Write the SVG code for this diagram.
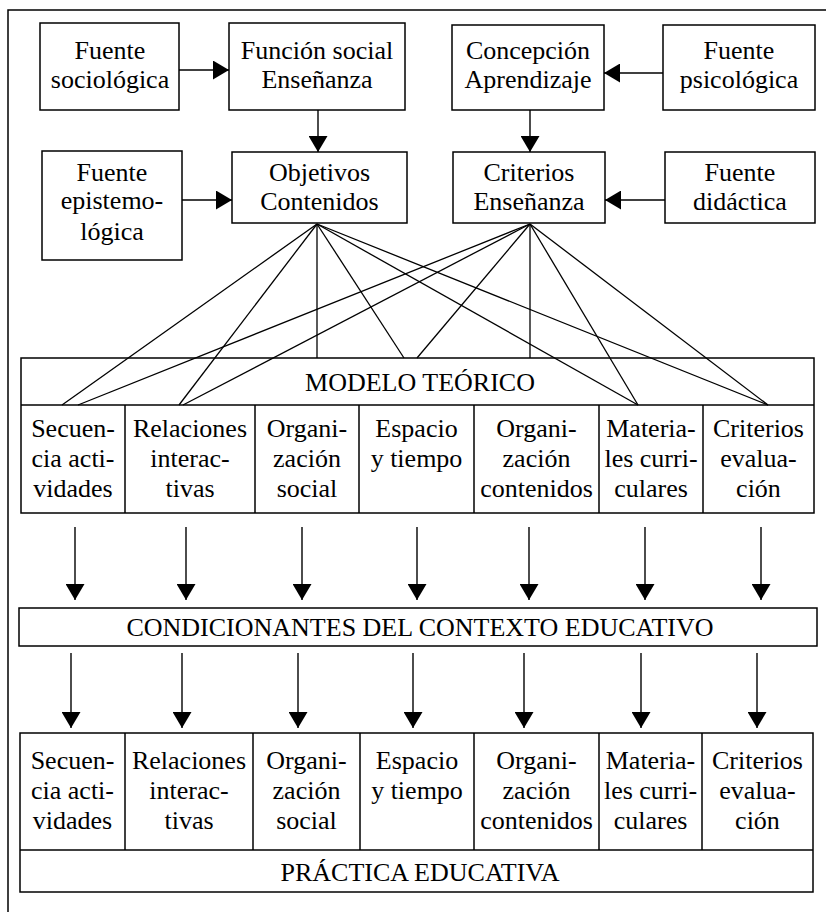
<svg xmlns="http://www.w3.org/2000/svg" width="826" height="912" viewBox="0 0 826 912">
<style>
.bg{fill:#ffffff}
.box{fill:none;stroke:#000;stroke-width:1.5}
.ln{fill:none;stroke:#000;stroke-width:1.3}
.ar{fill:none;stroke:#000;stroke-width:1.4;marker-end:url(#ah)}
.t{font-size:26px;fill:#000;text-anchor:middle}
</style>
<defs>
<marker id="ah" viewBox="0 0 16 19" refX="16" refY="9.5" markerWidth="16" markerHeight="19" markerUnits="userSpaceOnUse" orient="auto">
<path d="M0,0 L16,9.5 L0,19 z" fill="#000"/>
</marker>
</defs>
<rect class="bg" x="0" y="0" width="826" height="912"/>
<path id="frame" class="box" d="M8,912 V10 H826"/>
<g class="t" font-family="'Liberation Serif', 'Times New Roman', serif">
<g id="fuente-sociologica">
<rect class="box" x="40" y="23" width="139" height="87"/>
<text x="110" y="59">Fuente</text>
<text x="110" y="88">sociológica</text>
</g>
<g id="funcion-social">
<rect class="box" x="229" y="23" width="176" height="87"/>
<text x="317" y="59">Función social</text>
<text x="317" y="88">Enseñanza</text>
</g>
<g id="concepcion">
<rect class="box" x="452" y="25" width="152" height="85"/>
<text x="528" y="59">Concepción</text>
<text x="528" y="88">Aprendizaje</text>
</g>
<g id="fuente-psicologica">
<rect class="box" x="663" y="25" width="152" height="85"/>
<text x="739" y="59">Fuente</text>
<text x="739" y="88">psicológica</text>
</g>
<g id="fuente-epistemologica">
<rect class="box" x="42" y="151" width="140" height="109"/>
<text x="112" y="181">Fuente</text>
<text x="112" y="209">epistemo-</text>
<text x="112" y="240">lógica</text>
</g>
<g id="objetivos">
<rect class="box" x="232" y="152" width="175" height="71"/>
<text x="319.5" y="181">Objetivos</text>
<text x="319.5" y="210">Contenidos</text>
</g>
<g id="criterios-ensenanza">
<rect class="box" x="453" y="152" width="152" height="71"/>
<text x="529" y="181">Criterios</text>
<text x="529" y="210">Enseñanza</text>
</g>
<g id="fuente-didactica">
<rect class="box" x="665" y="152" width="150" height="71"/>
<text x="740" y="181">Fuente</text>
<text x="740" y="210">didáctica</text>
</g>

<g id="modelo-teorico">
<rect class="box" x="21" y="358" width="793" height="155"/>
<line class="box" x1="21" y1="405" x2="814" y2="405"/>
<line class="box" x1="125" y1="405" x2="125" y2="513"/>
<line class="box" x1="255" y1="405" x2="255" y2="513"/>
<line class="box" x1="359" y1="405" x2="359" y2="513"/>
<line class="box" x1="474" y1="405" x2="474" y2="513"/>
<line class="box" x1="599" y1="405" x2="599" y2="513"/>
<line class="box" x1="703" y1="405" x2="703" y2="513"/>
<text x="420" y="391">MODELO TEÓRICO</text>
<text x="73" y="437">Secuen-</text><text x="73" y="467">cia acti-</text><text x="73" y="497">vidades</text>
<text x="190" y="437">Relaciones</text><text x="190" y="467">interac-</text><text x="190" y="497">tivas</text>
<text x="307" y="437">Organi-</text><text x="307" y="467">zación</text><text x="307" y="497">social</text>
<text x="416.5" y="437">Espacio</text><text x="416.5" y="467">y tiempo</text>
<text x="536.5" y="437">Organi-</text><text x="536.5" y="467">zación</text><text x="536.5" y="497">contenidos</text>
<text x="651" y="437">Materia-</text><text x="651" y="467">les curri-</text><text x="651" y="497">culares</text>
<text x="758.5" y="437">Criterios</text><text x="758.5" y="467">evalua-</text><text x="758.5" y="497">ción</text>
</g>

<g id="condicionantes">
<rect class="box" x="19" y="608" width="798" height="38"/>
<text x="420" y="636">CONDICIONANTES DEL CONTEXTO EDUCATIVO</text>
</g>

<g id="practica-educativa">
<rect class="box" x="20" y="733" width="793" height="159"/>
<line class="box" x1="20" y1="850" x2="813" y2="850"/>
<line class="box" x1="125" y1="733" x2="125" y2="850"/>
<line class="box" x1="253" y1="733" x2="253" y2="850"/>
<line class="box" x1="360" y1="733" x2="360" y2="850"/>
<line class="box" x1="474" y1="733" x2="474" y2="850"/>
<line class="box" x1="599" y1="733" x2="599" y2="850"/>
<line class="box" x1="702" y1="733" x2="702" y2="850"/>
<text x="72.5" y="769">Secuen-</text><text x="72.5" y="799">cia acti-</text><text x="72.5" y="829">vidades</text>
<text x="189" y="769">Relaciones</text><text x="189" y="799">interac-</text><text x="189" y="829">tivas</text>
<text x="306.5" y="769">Organi-</text><text x="306.5" y="799">zación</text><text x="306.5" y="829">social</text>
<text x="417" y="769">Espacio</text><text x="417" y="799">y tiempo</text>
<text x="536.5" y="769">Organi-</text><text x="536.5" y="799">zación</text><text x="536.5" y="829">contenidos</text>
<text x="650.5" y="769">Materia-</text><text x="650.5" y="799">les curri-</text><text x="650.5" y="829">culares</text>
<text x="757.5" y="769">Criterios</text><text x="757.5" y="799">evalua-</text><text x="757.5" y="829">ción</text>
<text x="420" y="881">PRÁCTICA EDUCATIVA</text>
</g>
</g>

<g id="connectors">
<line class="ar" x1="179" y1="70" x2="229" y2="70"/>
<line class="ar" x1="318" y1="110" x2="318" y2="152"/>
<line class="ar" x1="663" y1="73" x2="604" y2="73"/>
<line class="ar" x1="530" y1="110" x2="530" y2="152"/>
<line class="ar" x1="182" y1="200" x2="232" y2="200"/>
<line class="ar" x1="665" y1="200" x2="605" y2="200"/>

<line class="ln" x1="317" y1="224" x2="62" y2="405"/>
<line class="ln" x1="317" y1="224" x2="179" y2="405"/>
<line class="ln" x1="317" y1="224" x2="317" y2="358"/>
<line class="ln" x1="317" y1="224" x2="404" y2="358"/>
<line class="ln" x1="317" y1="224" x2="638" y2="405"/>
<line class="ln" x1="317" y1="224" x2="768" y2="405"/>
<line class="ln" x1="530" y1="224" x2="78" y2="405"/>
<line class="ln" x1="530" y1="224" x2="183" y2="405"/>
<line class="ln" x1="530" y1="224" x2="417" y2="358"/>
<line class="ln" x1="530" y1="224" x2="530" y2="358"/>
<line class="ln" x1="530" y1="224" x2="638" y2="405"/>
<line class="ln" x1="530" y1="224" x2="768" y2="405"/>

<line class="ar" x1="75" y1="527" x2="75" y2="600"/>
<line class="ar" x1="186" y1="527" x2="186" y2="600"/>
<line class="ar" x1="302" y1="527" x2="302" y2="600"/>
<line class="ar" x1="417" y1="527" x2="417" y2="600"/>
<line class="ar" x1="529" y1="527" x2="529" y2="600"/>
<line class="ar" x1="645" y1="527" x2="645" y2="600"/>
<line class="ar" x1="761" y1="527" x2="761" y2="600"/>

<line class="ar" x1="71" y1="653" x2="71" y2="728"/>
<line class="ar" x1="182" y1="653" x2="182" y2="728"/>
<line class="ar" x1="298" y1="653" x2="298" y2="728"/>
<line class="ar" x1="413" y1="653" x2="413" y2="728"/>
<line class="ar" x1="524" y1="653" x2="524" y2="728"/>
<line class="ar" x1="641" y1="653" x2="641" y2="728"/>
<line class="ar" x1="757" y1="653" x2="757" y2="728"/>
</g>
</svg>
